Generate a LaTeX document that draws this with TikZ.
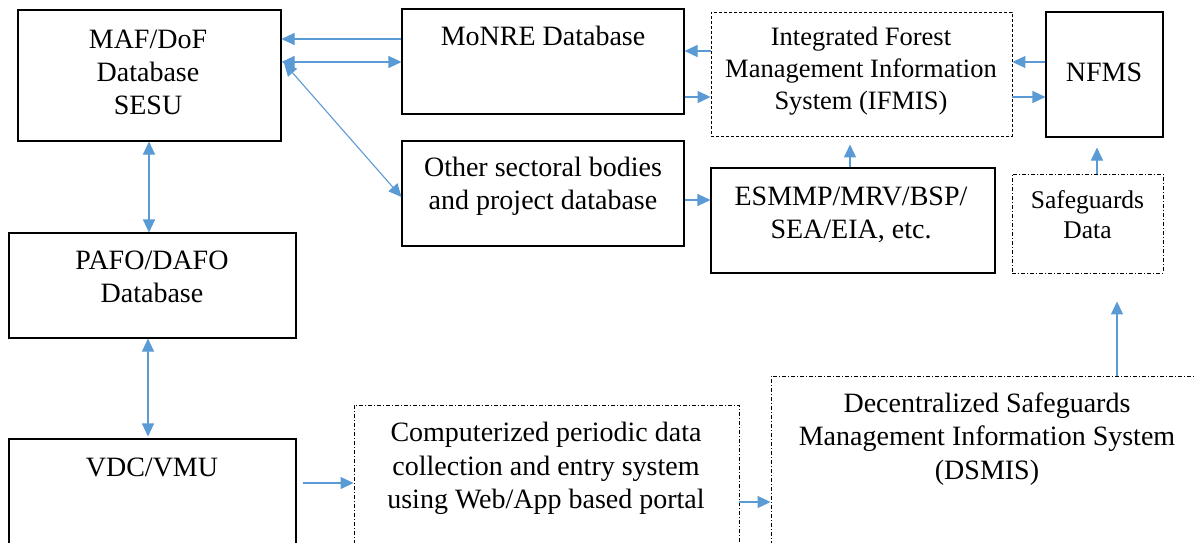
\documentclass[tikz,border=0pt]{standalone}
\usepackage{fontspec}
\setmainfont{Liberation Serif}
\usetikzlibrary{arrows.meta}
\definecolor{ab}{HTML}{5B9BD5}
\begin{document}
\begin{tikzpicture}[x=1pt,y=-1pt,
 box/.style={draw=black, line width=1.1pt, inner sep=0pt},
 dbox/.style={draw=black, line width=0.9pt, dash pattern=on 3pt off 2pt, inner sep=0pt},
 ddbox/.style={draw=black, line width=0.9pt, dash pattern=on 4pt off 2pt on 1pt off 2pt, inner sep=0pt},
 txt/.style={align=center, inner sep=0pt, font=\fontsize{28}{33.3}\selectfont},
 txtb/.style={align=center, inner sep=0pt, font=\fontsize{26.5}{31.7}\selectfont},
 txtc/.style={align=center, inner sep=0pt, font=\fontsize{25.5}{30.6}\selectfont},
 arr/.style={draw=ab, line width=1.1pt, -{Triangle[length=13pt,width=12pt]}},
 darr/.style={draw=ab, line width=1.1pt, {Triangle[length=13pt,width=12pt]}-{Triangle[length=13pt,width=12pt]}},
]
\useasboundingbox (0,0) rectangle (1194,543);
\fill[white] (0,0) rectangle (1194,543);
\clip (0,0) rectangle (1194,543);

% boxes
\node[box, minimum width=263pt, minimum height=131pt] (maf) at (149.5,75.5) {};
\node[box, minimum width=287pt, minimum height=105pt] (pafo) at (152.5,285.5) {};
\node[box, minimum width=287pt, minimum height=141pt] (vdc) at (152.5,509.5) {};
\node[box, minimum width=282pt, minimum height=105pt] (mon) at (543,61.5) {};
\node[box, minimum width=282pt, minimum height=105pt] (oth) at (543,193.5) {};
\node[dbox, minimum width=301pt, minimum height=124pt] (ifm) at (861.5,74) {};
\node[box, minimum width=284pt, minimum height=105pt] (esm) at (853,220.5) {};
\node[box, minimum width=117pt, minimum height=125pt] (nfm) at (1104.5,74.5) {};
\node[ddbox, minimum width=151pt, minimum height=99pt] (sg) at (1087.5,223.5) {};
\node[ddbox, minimum width=385pt, minimum height=175pt] (comp) at (546.5,492.5) {};
\node[ddbox, minimum width=459pt, minimum height=204pt] (dsm) at (1000.5,478) {};

% texts
\node[txt] (maft) at (148,74.7) {\strut MAF/DoF\\\strut Database\\\strut SESU};
\node[txt] (pafot) at (152,279.2) {\strut PAFO/DAFO\\\strut Database};
\node[txt] (vdct) at (152,469.4) {\strut VDC/VMU};
\node[txt] (mont) at (543,39) {\strut MoNRE Database};
\node[txt] (otht) at (543,186.4) {\strut Other sectoral bodies\\\strut and project database};
\node[txtb] (ifmt) at (861,71.3) {\strut Integrated Forest\\\strut Management Information\\\strut System (IFMIS)};
\node[txt] (esmt) at (851,215) {\strut ESMMP/MRV/BSP/\\\strut SEA/EIA, etc.};
\node[txt] (nfmt) at (1104,75) {\strut NFMS};
\node[txtc] (sgt) at (1087.5,217.5) {\strut Safeguards\\\strut Data};
\node[txt] (compt) at (546,468.4) {\strut Computerized periodic data\\\strut collection and entry system\\\strut using Web/App based portal};
\node[txt] (dsmt) at (987,439.3) {\strut Decentralized Safeguards\\\strut Management Information System\\\strut (DSMIS)};

% connectors
\coordinate (mafd) at (284,63);
\draw[arr] (mon.west |- 0,39) -- (maf.east |- 0,39);
\draw[darr] (maf.east |- 0,62) -- (mon.west |- 0,62);
\draw[darr] (mafd) -- (oth.west |- 0,197);
\draw[darr] (maf.south -| 149,0) -- (pafo.north -| 149,0);
\draw[darr, shorten >=2pt] (pafo.south -| 148,0) -- (vdc.north -| 148,0);
\draw[arr, shorten <=6pt] (vdc.east |- 0,483) -- (comp.west |- 0,483);
\draw[arr] (comp.east |- 0,502) -- (dsm.west |- 0,502);
\draw[arr, shorten >=28pt] (dsm.north -| 1117,0) -- (sg.south -| 1117,0);
\draw[arr, shorten >=10pt] (sg.north -| 1097,0) -- (nfm.south -| 1097,0);
\draw[arr, shorten >=8pt] (esm.north -| 850,0) -- (ifm.south -| 850,0);
\draw[arr] (oth.east |- 0,200) -- (esm.west |- 0,200);
\draw[arr] (ifm.west |- 0,51) -- (mon.east |- 0,51);
\draw[arr] (mon.east |- 0,97) -- (ifm.west |- 0,97);
\draw[arr] (nfm.west |- 0,62) -- (ifm.east |- 0,62);
\draw[arr] (ifm.east |- 0,97) -- (nfm.west |- 0,97);
\end{tikzpicture}
\end{document}
